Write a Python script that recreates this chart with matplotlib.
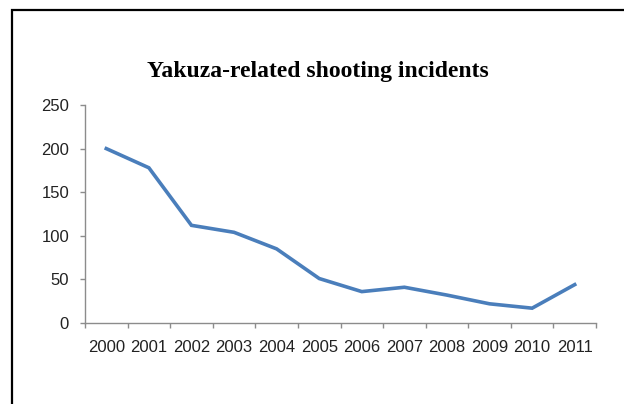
import matplotlib
matplotlib.use("Agg")
import matplotlib.pyplot as plt
from matplotlib.patches import Rectangle

years = ["2000", "2001", "2002", "2003", "2004", "2005",
         "2006", "2007", "2008", "2009", "2010", "2011"]
incidents = [200, 178, 112, 104, 85, 51, 36, 41, 32, 22, 17, 44]
yticks = [0, 50, 100, 150, 200, 250]
title = "Yakuza-related shooting incidents"

W, H = 624, 404
fig = plt.figure(figsize=(W / 100, H / 100), dpi=100)

# chart-area frame, clipped by the image on right/bottom
fig.patches.append(Rectangle((11.5 / W, -0.1), 1.2, 1 - 9.5 / H + 0.1,
                             transform=fig.transFigure, fill=False,
                             edgecolor="black", linewidth=1.6))

ax = fig.add_axes([85 / W, 1 - 323 / H, (596 - 85) / W, (323 - 105) / H])
x = range(len(years))
ax.plot(x, incidents, color="#4a7ebb", linewidth=2.6, solid_joinstyle="miter")

ax.set_xlim(-0.5, len(years) - 0.5)
ax.set_ylim(0, 250)
ax.set_yticks(yticks)
ax.set_xticks([i - 0.5 for i in range(len(years) + 1)], minor=False)
ax.set_xticklabels([""] * (len(years) + 1))
ax.set_xticks(list(x), minor=True)
ax.set_xticklabels(years, minor=True)

for s in ["top", "right"]:
    ax.spines[s].set_visible(False)
for s in ["left", "bottom"]:
    ax.spines[s].set_color("#8c8c8c")
    ax.spines[s].set_linewidth(1.0)

ax.tick_params(axis="both", which="major", direction="out", length=3.5,
               width=1.0, color="#8c8c8c")
ax.tick_params(axis="x", which="minor", length=0, pad=12)
ax.tick_params(axis="y", pad=8)
for lab in ax.get_xticklabels(minor=True) + ax.get_yticklabels():
    lab.set_fontfamily("Liberation Sans")
    lab.set_fontsize(12)
    lab.set_color("#222222")

fig.text(318 / W, 1 - 71 / H, title, ha="center", va="center",
         fontfamily="Liberation Serif", fontweight="bold", fontsize=17)

fig.savefig("out.png", dpi=100)
